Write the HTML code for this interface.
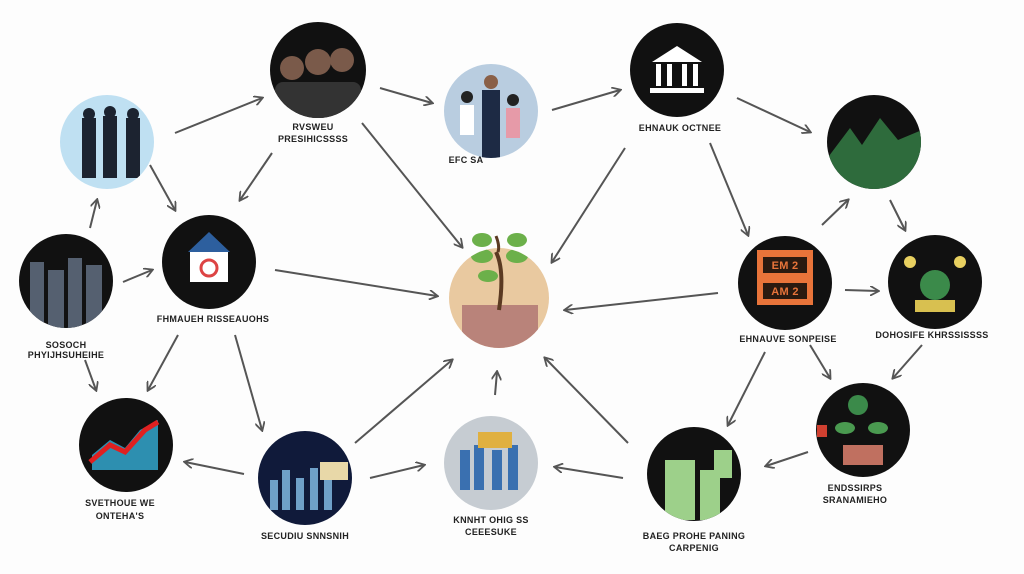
<!DOCTYPE html>
<html><head><meta charset="utf-8"><style>
body{margin:0;background:#fdfdfd;}
svg{display:block}
text{font-family:"Liberation Sans",sans-serif;font-size:9px;fill:#222;text-anchor:middle;font-weight:bold;letter-spacing:0.3px}
</style></head><body>
<svg width="1024" height="574" viewBox="0 0 1024 574" xmlns="http://www.w3.org/2000/svg">
<defs>
<marker id="a" markerWidth="10" markerHeight="10" refX="8" refY="5" orient="auto" markerUnits="userSpaceOnUse">
<path d="M0,0 L9,5 L0,10" fill="none" stroke="#555" stroke-width="1.8"/></marker>
<clipPath id="c1"><circle cx="107" cy="142" r="47"/></clipPath>
<clipPath id="c2"><circle cx="318" cy="70" r="48"/></clipPath>
<clipPath id="c3"><circle cx="491" cy="111" r="47"/></clipPath>
<clipPath id="c5"><circle cx="874" cy="142" r="47"/></clipPath>
<clipPath id="c6"><circle cx="66" cy="281" r="47"/></clipPath>
<clipPath id="c8"><circle cx="499" cy="298" r="50"/></clipPath>
<clipPath id="c11"><circle cx="126" cy="445" r="47"/></clipPath>
<clipPath id="c12"><circle cx="305" cy="478" r="47"/></clipPath>
<clipPath id="c13"><circle cx="491" cy="463" r="47"/></clipPath>
<clipPath id="c14"><circle cx="694" cy="474" r="47"/></clipPath>
</defs>
<rect width="1024" height="574" fill="#fdfdfd"/>
<g stroke="#555" stroke-width="2" marker-end="url(#a)">
<line x1="175" y1="133" x2="262" y2="98"/>
<line x1="380" y1="88" x2="432" y2="103"/>
<line x1="552" y1="110" x2="620" y2="90"/>
<line x1="737" y1="98" x2="810" y2="132"/>
<line x1="362" y1="123" x2="462" y2="247"/>
<line x1="625" y1="148" x2="552" y2="262"/>
<line x1="272" y1="153" x2="240" y2="200"/>
<line x1="150" y1="165" x2="175" y2="210"/>
<line x1="90" y1="228" x2="97" y2="200"/>
<line x1="123" y1="282" x2="152" y2="270"/>
<line x1="275" y1="270" x2="437" y2="296"/>
<line x1="718" y1="293" x2="565" y2="310"/>
<line x1="710" y1="143" x2="748" y2="235"/>
<line x1="822" y1="225" x2="848" y2="200"/>
<line x1="890" y1="200" x2="905" y2="230"/>
<line x1="845" y1="290" x2="878" y2="291"/>
<line x1="178" y1="335" x2="148" y2="390"/>
<line x1="85" y1="360" x2="96" y2="390"/>
<line x1="235" y1="335" x2="262" y2="430"/>
<line x1="244" y1="474" x2="185" y2="462"/>
<line x1="355" y1="443" x2="452" y2="360"/>
<line x1="370" y1="478" x2="424" y2="465"/>
<line x1="495" y1="395" x2="497" y2="372"/>
<line x1="628" y1="443" x2="545" y2="358"/>
<line x1="623" y1="478" x2="555" y2="467"/>
<line x1="765" y1="352" x2="728" y2="425"/>
<line x1="810" y1="345" x2="830" y2="378"/>
<line x1="922" y1="345" x2="893" y2="378"/>
<line x1="808" y1="452" x2="766" y2="466"/>
</g>
<circle cx="107" cy="142" r="47" fill="#bfe0f2"/>
<g fill="#1c2330" clip-path="url(#c1)"><rect x="82" y="118" width="14" height="60"/><rect x="103" y="116" width="14" height="62"/><rect x="126" y="118" width="14" height="60"/><circle cx="89" cy="114" r="6"/><circle cx="110" cy="112" r="6"/><circle cx="133" cy="114" r="6"/></g>
<circle cx="318" cy="70" r="48" fill="#111"/>
<g clip-path="url(#c2)"><g fill="#7a5a4a"><circle cx="292" cy="68" r="12"/><circle cx="318" cy="62" r="13"/><circle cx="342" cy="60" r="12"/></g>
<rect x="275" y="82" width="86" height="40" rx="8" fill="#333"/></g>
<circle cx="491" cy="111" r="47" fill="#b9cde0"/>
<g clip-path="url(#c3)"><rect x="482" y="90" width="18" height="70" fill="#1d2a44"/><rect x="460" y="105" width="14" height="30" fill="#fff"/><rect x="506" y="108" width="14" height="30" fill="#e69aa8"/><circle cx="491" cy="82" r="7" fill="#8a6048"/><circle cx="467" cy="97" r="6" fill="#222"/><circle cx="513" cy="100" r="6" fill="#222"/></g>
<circle cx="677" cy="70" r="47" fill="#111"/>
<g fill="#fff"><polygon points="652,62 677,46 702,62"/><rect x="656" y="64" width="5" height="22"/><rect x="667" y="64" width="5" height="22"/><rect x="682" y="64" width="5" height="22"/><rect x="693" y="64" width="5" height="22"/><rect x="650" y="88" width="54" height="5"/></g>
<circle cx="874" cy="142" r="47" fill="#111"/>
<polygon clip-path="url(#c5)" points="826,160 850,128 862,145 880,118 898,140 922,130 922,195 826,195" fill="#2e6b3c"/>
<circle cx="66" cy="281" r="47" fill="#111"/>
<g fill="#556070" clip-path="url(#c6)"><rect x="30" y="262" width="14" height="70"/><rect x="48" y="270" width="16" height="62"/><rect x="68" y="258" width="14" height="74"/><rect x="86" y="265" width="16" height="67"/></g>
<circle cx="209" cy="262" r="47" fill="#111"/>
<rect x="190" y="250" width="38" height="32" fill="#fff"/><polygon points="188,252 209,232 230,252" fill="#2d5f9e"/><circle cx="209" cy="268" r="8" fill="none" stroke="#d44" stroke-width="3"/>
<circle cx="499" cy="298" r="50" fill="#e9c9a0"/>
<g clip-path="url(#c8)"><rect x="462" y="305" width="76" height="45" fill="#b9837a"/>
<path d="M499,310 Q505,270 496,252" stroke="#5b3a22" stroke-width="4" fill="none"/>
<g fill="#6cb04a"><ellipse cx="482" cy="256" rx="11" ry="7"/><ellipse cx="517" cy="256" rx="11" ry="7"/><ellipse cx="488" cy="276" rx="10" ry="6"/></g></g>
<g fill="#6cb04a"><ellipse cx="482" cy="240" rx="10" ry="7"/><ellipse cx="517" cy="240" rx="10" ry="7"/></g>
<path d="M498,252 Q500,246 496,236" stroke="#5b3a22" stroke-width="3" fill="none"/>
<circle cx="785" cy="283" r="47" fill="#111"/>
<rect x="757" y="250" width="56" height="55" fill="#e8743a"/>
<rect x="763" y="257" width="44" height="16" fill="#2a1a10"/><rect x="763" y="283" width="44" height="16" fill="#2a1a10"/>
<text x="785" y="269" style="fill:#e8743a;font-size:11px">EM  2</text><text x="785" y="295" style="fill:#e8743a;font-size:11px">AM  2</text>
<circle cx="935" cy="282" r="47" fill="#111"/>
<circle cx="935" cy="285" r="15" fill="#3b8a4a"/><circle cx="910" cy="262" r="6" fill="#e8d060"/><circle cx="960" cy="262" r="6" fill="#e8d060"/><rect x="915" y="300" width="40" height="12" fill="#d8c050"/>
<circle cx="126" cy="445" r="47" fill="#111"/>
<g clip-path="url(#c11)"><polygon points="92,470 92,455 110,440 125,448 140,430 158,420 158,470" fill="#2d8fb0"/>
<polyline points="90,462 110,445 125,452 145,430 158,422" stroke="#e02020" stroke-width="5" fill="none"/></g>
<circle cx="305" cy="478" r="47" fill="#101a3a"/>
<g clip-path="url(#c12)"><g fill="#6fa0c8"><rect x="270" y="480" width="8" height="30"/><rect x="282" y="470" width="8" height="40"/><rect x="296" y="478" width="8" height="32"/><rect x="310" y="468" width="8" height="42"/><rect x="324" y="476" width="8" height="34"/></g><rect x="320" y="462" width="28" height="18" fill="#e8d8a8"/></g>
<circle cx="491" cy="463" r="47" fill="#c6ccd2"/>
<g clip-path="url(#c13)"><g fill="#3a70b0"><rect x="460" y="450" width="10" height="40"/><rect x="474" y="445" width="10" height="45"/><rect x="492" y="450" width="10" height="40"/><rect x="508" y="445" width="10" height="45"/></g><rect x="478" y="432" width="34" height="16" fill="#e0b040"/></g>
<circle cx="694" cy="474" r="47" fill="#111"/>
<g fill="#9dd08a" clip-path="url(#c14)"><rect x="665" y="460" width="30" height="60"/><rect x="700" y="470" width="20" height="50"/><rect x="714" y="450" width="18" height="28"/></g>
<circle cx="863" cy="430" r="47" fill="#111"/>
<circle cx="858" cy="405" r="10" fill="#3b8a4a"/><ellipse cx="845" cy="428" rx="10" ry="6" fill="#4a9a50"/><ellipse cx="878" cy="428" rx="10" ry="6" fill="#4a9a50"/><rect x="843" y="445" width="40" height="20" fill="#c07060"/><rect x="817" y="425" width="10" height="12" fill="#d04030"/>
<text x="313" y="130">RVSWEU</text><text x="313" y="142">PRESIHICSSSS</text>
<text x="466" y="163">EFC SA</text>
<text x="680" y="131">EHNAUK OCTNEE</text>
<text x="66" y="348">SOSOCH</text><text x="66" y="358">PHYIJHSUHEIHE</text>
<text x="213" y="322">FHMAUEH RISSEAUOHS</text>
<text x="788" y="342">EHNAUVE SONPEISE</text>
<text x="932" y="338">DOHOSIFE KHRSSISSSS</text>
<text x="120" y="506">SVETHOUE WE</text><text x="120" y="519">ONTEHA'S</text>
<text x="305" y="539">SECUDIU SNNSNIH</text>
<text x="491" y="523">KNNHT OHIG SS</text><text x="491" y="535">CEEESUKE</text>
<text x="694" y="539">BAEG PROHE PANING</text><text x="694" y="551">CARPENIG</text>
<text x="855" y="491">ENDSSIRPS</text><text x="855" y="503">SRANAMIEHO</text>
</svg>
</body></html>
